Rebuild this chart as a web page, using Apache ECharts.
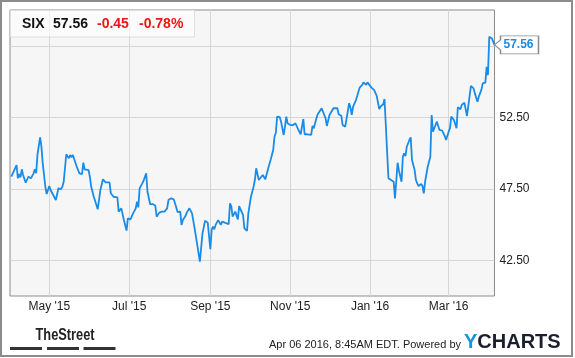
<!DOCTYPE html>
<html><head><meta charset="utf-8">
<script src="https://cdn.jsdelivr.net/npm/echarts@6/dist/echarts.min.js"></script>
<style>html,body{margin:0;padding:0;background:#fff}#c{width:575px;height:358px}</style>
</head><body><div id="c"></div>
<script>
const ticker = 'SIX';
const lastPrice = 57.56;
const changeText = '-0.45';
const changePctText = '-0.78%';

const dates = [
'2015-04-02','2015-04-06','2015-04-07','2015-04-08','2015-04-09','2015-04-10','2015-04-11','2015-04-13','2015-04-15','2015-04-17','2015-04-19','2015-04-20','2015-04-21','2015-04-22','2015-04-23','2015-04-24','2015-04-25','2015-04-26','2015-04-27','2015-04-28','2015-04-29',
'2015-05-01','2015-05-02','2015-05-04','2015-05-06','2015-05-08','2015-05-10','2015-05-11','2015-05-12','2015-05-14','2015-05-16','2015-05-17','2015-05-18','2015-05-19','2015-05-20','2015-05-22','2015-05-24','2015-05-26','2015-05-27','2015-05-28','2015-05-31',
'2015-06-01','2015-06-02','2015-06-04','2015-06-06','2015-06-07','2015-06-09','2015-06-11','2015-06-13','2015-06-14','2015-06-16','2015-06-17','2015-06-18','2015-06-19','2015-06-20','2015-06-22','2015-06-23','2015-06-25','2015-06-27','2015-06-29','2015-06-30',
'2015-07-02','2015-07-04','2015-07-06','2015-07-07','2015-07-08','2015-07-09','2015-07-11','2015-07-12','2015-07-14','2015-07-15','2015-07-16','2015-07-17','2015-07-19','2015-07-21','2015-07-22','2015-07-24','2015-07-26','2015-07-27','2015-07-28','2015-07-30','2015-07-31',
'2015-08-02','2015-08-04','2015-08-05','2015-08-07','2015-08-09','2015-08-10','2015-08-11','2015-08-13','2015-08-14','2015-08-16','2015-08-18','2015-08-20','2015-08-22','2015-08-24','2015-08-25','2015-08-26','2015-08-28','2015-08-30','2015-08-31',
'2015-09-01','2015-09-02','2015-09-03','2015-09-04','2015-09-05','2015-09-07','2015-09-09','2015-09-10','2015-09-12','2015-09-15','2015-09-16','2015-09-17','2015-09-18','2015-09-19','2015-09-20','2015-09-22','2015-09-23','2015-09-24','2015-09-26','2015-09-27','2015-09-29','2015-09-30',
'2015-10-02','2015-10-04','2015-10-05','2015-10-06','2015-10-08','2015-10-09','2015-10-11','2015-10-13','2015-10-15','2015-10-17','2015-10-19','2015-10-20','2015-10-21','2015-10-22','2015-10-24','2015-10-25','2015-10-27','2015-10-28','2015-10-29','2015-10-30',
'2015-11-01','2015-11-03','2015-11-05','2015-11-06','2015-11-07','2015-11-09','2015-11-11','2015-11-12','2015-11-14','2015-11-15','2015-11-17','2015-11-18','2015-11-19','2015-11-21','2015-11-22','2015-11-23','2015-11-25','2015-11-26','2015-11-28','2015-11-29',
'2015-12-01','2015-12-02','2015-12-04','2015-12-07','2015-12-08','2015-12-10','2015-12-11','2015-12-13','2015-12-14','2015-12-16','2015-12-17','2015-12-18','2015-12-19','2015-12-21','2015-12-22','2015-12-24','2015-12-26','2015-12-27','2015-12-29','2015-12-30','2015-12-31',
'2016-01-02','2016-01-04','2016-01-06','2016-01-07','2016-01-08','2016-01-09','2016-01-11','2016-01-12','2016-01-13','2016-01-14','2016-01-15','2016-01-17','2016-01-19','2016-01-20','2016-01-22','2016-01-23','2016-01-25','2016-01-26','2016-01-27','2016-01-28','2016-01-29','2016-01-31',
'2016-02-01','2016-02-02','2016-02-03','2016-02-04','2016-02-05','2016-02-06','2016-02-07','2016-02-09','2016-02-10','2016-02-11','2016-02-12','2016-02-14','2016-02-16','2016-02-17','2016-02-18','2016-02-20','2016-02-21','2016-02-23','2016-02-25','2016-02-27','2016-02-28',
'2016-03-01','2016-03-02','2016-03-03','2016-03-05','2016-03-07','2016-03-08','2016-03-10','2016-03-11','2016-03-13','2016-03-15','2016-03-16','2016-03-18','2016-03-20','2016-03-21','2016-03-23','2016-03-24','2016-03-26','2016-03-27','2016-03-29','2016-03-30','2016-03-31',
'2016-04-01','2016-04-03','2016-04-05'
];
const prices = [
48.34,49.16,48.23,48.53,48.30,48.86,48.46,47.92,48.34,48.23,48.58,48.86,48.58,49.91,49.98,51.10,50.44,49.28,48.46,47.64,47.13,
47.69,47.41,47.06,46.71,47.53,47.48,47.64,47.99,49.91,49.63,49.86,49.70,49.86,49.79,49.04,48.58,48.53,49.32,48.86,48.80,
48.34,47.64,46.94,46.36,46.06,47.41,48.16,47.95,47.88,47.95,47.18,47.22,46.94,46.94,46.90,45.90,46.13,45.31,44.57,45.43,
45.36,45.78,46.13,46.59,46.20,47.53,47.88,48.06,48.58,47.29,47.18,46.43,46.43,46.31,45.55,45.83,45.90,45.97,45.90,46.13,46.71,
46.83,46.76,46.48,45.87,45.90,44.97,45.31,45.59,45.83,46.13,45.78,44.73,43.57,42.40,42.52,44.38,45.27,45.13,45.03,
43.27,44.62,44.85,44.66,44.97,45.31,44.97,45.20,45.13,45.03,46.48,46.29,45.55,45.73,45.90,45.36,46.29,46.36,45.66,44.73,44.55,45.78,
46.94,47.64,48.11,48.93,48.11,47.99,48.46,48.16,48.86,49.51,50.21,51.14,51.42,52.54,52.50,52.19,51.26,51.84,52.54,52.08,
51.96,51.94,52.08,52.00,51.66,51.31,52.38,51.31,51.31,51.21,51.26,51.89,51.73,52.43,52.71,52.66,53.13,52.89,52.43,51.89,
52.66,52.54,53.13,53.13,52.71,52.61,51.96,51.84,51.77,53.48,53.17,52.66,53.24,53.64,53.71,54.57,54.76,54.94,54.76,54.94,54.87,
54.57,54.41,54.01,53.94,53.08,53.24,53.41,53.78,51.96,50.09,48.23,48.11,47.99,46.83,49.32,48.78,47.99,49.74,49.98,49.79,50.44,50.91,
51.10,49.51,49.46,48.81,48.11,47.88,47.69,47.83,47.69,47.18,47.99,49.04,49.74,52.66,51.49,51.96,52.19,51.61,51.56,51.19,50.91,
51.49,51.73,52.54,52.31,51.73,53.20,53.06,53.36,53.52,52.59,52.66,54.69,54.52,54.17,53.59,53.94,54.41,54.87,54.92,56.03,55.45,
58.13,58.01,57.56
];

const xStart = '2015-04-01';
const xTickDates = ['2015-05-01','2015-07-01','2015-09-01','2015-11-01','2016-01-01','2016-03-01'];
const xTickLabels = ["May '15","Jul '15","Sep '15","Nov '15","Jan '16","Mar '16"];
const yGridValues = [42.5, 47.5, 52.5, 57.5];
const yLabelValues = [42.5, 47.5, 52.5];
const footerText = 'Apr 06 2016, 8:45AM EDT. Powered by';

const FONT = '"Liberation Sans", Arial, Helvetica, sans-serif';
const BLUE = '#1a8be6';
const RED = '#f01414';
const last = dates.length - 1;
const t = d => echarts.time.parse(d).getTime();
const xTickTimes = xTickDates.map(t);

const chart = echarts.init(document.getElementById('c'), null, {renderer: 'canvas'});
const option = {
  animation: false,
  grid: {left: 10, right: 80.5, top: 10, bottom: 62, show: true, backgroundColor: '#f6f6f6', borderColor: '#8c8c8c', borderWidth: 1},
  xAxis: {
    type: 'value', min: t(xStart), max: t(dates[last]),
    axisLine: {show: false},
    axisTick: {show: false, customValues: xTickTimes},
    splitLine: {show: true, lineStyle: {color: '#d6d6d6', width: 1}},
    axisLabel: {
      customValues: xTickTimes, color: '#222', fontSize: 12, fontFamily: FONT, margin: 5,
      formatter: function (v) {
        let best = 0;
        for (let k = 1; k < xTickTimes.length; k++) if (Math.abs(xTickTimes[k] - v) < Math.abs(xTickTimes[best] - v)) best = k;
        return xTickLabels[best];
      }
    }
  },
  yAxis: {
    type: 'value', position: 'right', min: 40, max: 60,
    axisLine: {show: false},
    axisTick: {show: false, customValues: yGridValues},
    splitLine: {show: true, lineStyle: {color: '#d6d6d6', width: 1}},
    axisLabel: {customValues: yLabelValues, color: '#222', fontSize: 12, fontFamily: FONT, margin: 5,
      formatter: v => Number(v).toFixed(2)}
  },
  series: [{
    type: 'line', z: 3,
    data: dates.map((d, i) => [t(d), prices[i]]),
    showSymbol: false, symbol: 'none',
    lineStyle: {color: BLUE, width: 1.8},
    markPoint: {
      symbol: 'path://M0,9 L6,4 L6,0 L44,0 L44,18 L6,18 L6,14 Z',
      symbolSize: [44, 18], symbolOffset: [22, 0],
      itemStyle: {color: '#fff', borderColor: '#8c8c8c', borderWidth: 1},
      label: {show: true, formatter: lastPrice.toFixed(2), color: BLUE, fontWeight: 'bold', fontSize: 12, fontFamily: FONT, offset: [2, 0]},
      data: [{coord: [t(dates[last]), prices[last]]}]
    }
  }],
  graphic: [
    {type: 'rect', z: 1, silent: true, shape: {x: 10.5, y: 10.5, width: 184, height: 26.5}, style: {fill: 'rgba(255,255,255,0.6)', stroke: '#dedede', lineWidth: 1}},
    {type: 'text', z: 5, style: {x: 22, y: 24, text: ticker, fill: '#111', font: 'bold 14px ' + FONT, verticalAlign: 'middle'}},
    {type: 'text', z: 5, style: {x: 53, y: 24, text: lastPrice.toFixed(2), fill: '#111', font: 'bold 14px ' + FONT, verticalAlign: 'middle'}},
    {type: 'text', z: 5, style: {x: 97, y: 24, text: changeText, fill: RED, font: 'bold 14px ' + FONT, verticalAlign: 'middle'}},
    {type: 'text', z: 5, style: {x: 139, y: 24, text: changePctText, fill: RED, font: 'bold 14px ' + FONT, verticalAlign: 'middle'}},
    {type: 'text', z: 5, x: 35.5, y: 336, scaleX: 0.8, style: {x: 0, y: 0, text: 'TheStreet', fill: '#222', font: 'bold 16px "Liberation Sans Narrow", "Liberation Sans", Arial, sans-serif', verticalAlign: 'middle'}},
    {type: 'rect', z: 5, shape: {x: 10, y: 347, width: 32, height: 3}, style: {fill: '#333'}},
    {type: 'rect', z: 5, shape: {x: 47, y: 347, width: 32, height: 3}, style: {fill: '#333'}},
    {type: 'rect', z: 5, shape: {x: 83.5, y: 347, width: 32, height: 3}, style: {fill: '#333'}},
    {type: 'text', z: 5, style: {x: 269, y: 345, text: footerText, fill: '#222', font: '11px ' + FONT, verticalAlign: 'middle'}},
    {type: 'text', z: 5, style: {x: 464, y: 342, text: '{y|Y}{c|CHARTS}', verticalAlign: 'middle',
      rich: {y: {fill: '#1b91d9', fontSize: 20, fontWeight: 'bold', fontFamily: FONT}, c: {fill: '#1a1f2e', fontSize: 20, fontWeight: 'bold', fontFamily: FONT}}}},
    {type: 'rect', z: 10, silent: true, shape: {x: 1, y: 1, width: 571, height: 355}, style: {fill: 'none', stroke: '#8c8c8c', lineWidth: 2}}
  ]
};
chart.setOption(option);
</script>
</body></html>
